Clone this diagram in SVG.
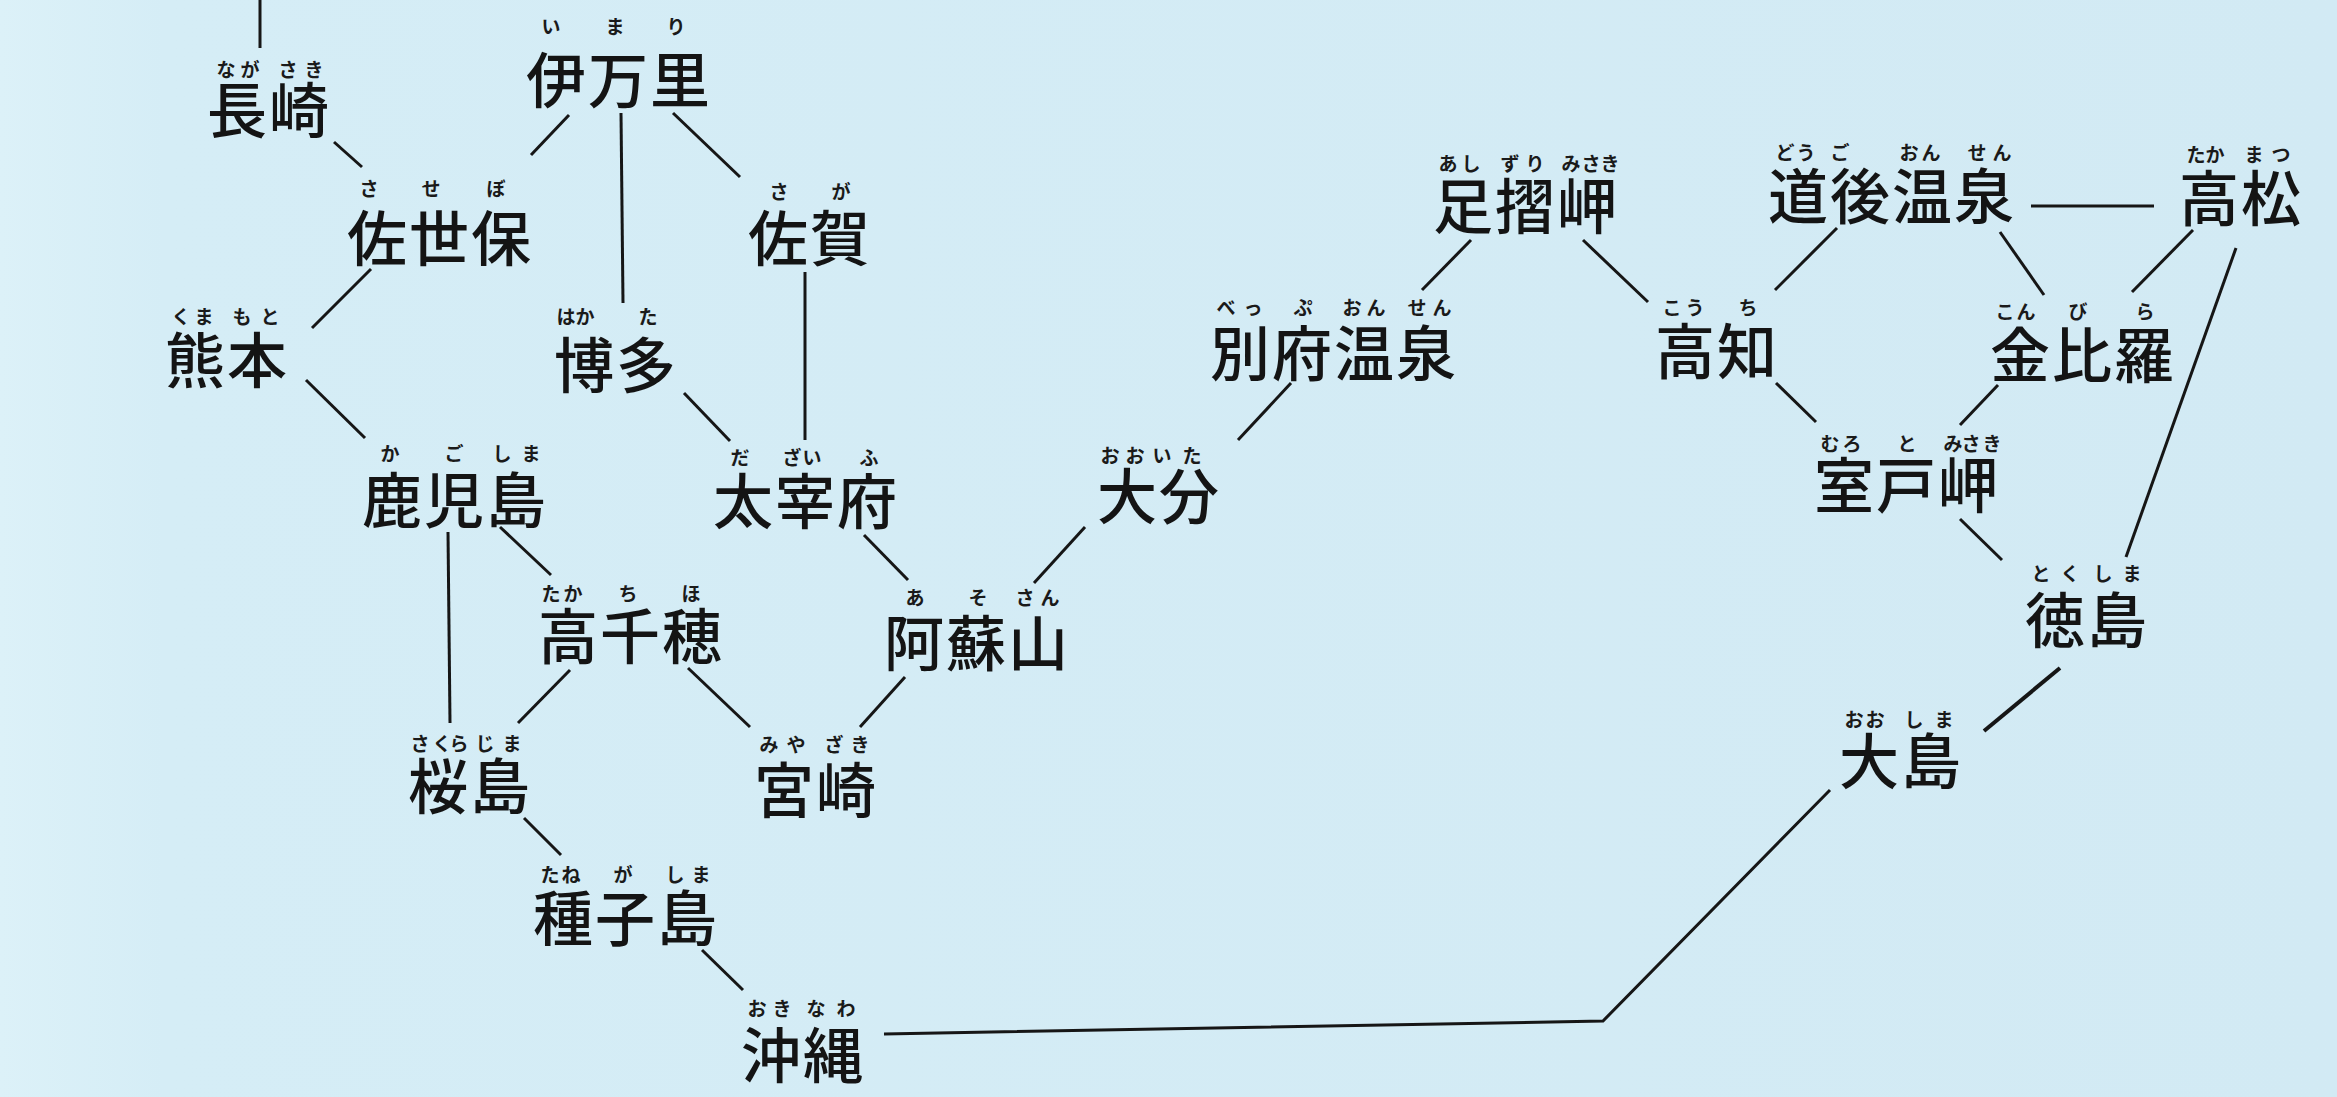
<svg xmlns="http://www.w3.org/2000/svg" width="2337" height="1097" viewBox="0 0 2337 1097">
<defs>
<linearGradient id="bg" x1="0" y1="0" x2="1" y2="0">
<stop offset="0" stop-color="#dcf1f8"/>
<stop offset="0.07" stop-color="#d5edf6"/>
<stop offset="1" stop-color="#d2eaf4"/>
</linearGradient>
<style>
.k{font-family:"Noto Sans CJK JP","Noto Sans CJK SC",sans-serif;font-size:60px;letter-spacing:2px;fill:#141414;text-anchor:middle;font-weight:500}
.f{font-family:"Noto Sans CJK JP","Noto Sans CJK SC",sans-serif;font-size:19px;fill:#1a1a1a;text-anchor:middle;font-weight:700}
.c line,.c polyline{stroke:#161616;stroke-width:3;fill:none;stroke-linecap:butt}
</style>
</defs>
<rect x="0" y="0" width="2337" height="1097" fill="url(#bg)"/>
<g id="connectors" class="c">
<line x1="260" y1="0" x2="260" y2="48"/>
<line x1="334" y1="142" x2="362" y2="167"/>
<line x1="569" y1="115" x2="531" y2="155"/>
<line x1="621" y1="113" x2="623" y2="303"/>
<line x1="673" y1="113" x2="740" y2="177"/>
<line x1="371" y1="269" x2="312" y2="328"/>
<line x1="306" y1="380" x2="365" y2="438"/>
<line x1="684" y1="393" x2="730" y2="441"/>
<line x1="805" y1="272" x2="805" y2="440"/>
<line x1="448" y1="532" x2="450" y2="723"/>
<line x1="500" y1="527" x2="551" y2="575"/>
<line x1="570" y1="670" x2="518" y2="723"/>
<line x1="688" y1="668" x2="750" y2="727"/>
<line x1="864" y1="535" x2="908" y2="580"/>
<line x1="1085" y1="527" x2="1034" y2="583"/>
<line x1="905" y1="677" x2="860" y2="727"/>
<line x1="524" y1="818" x2="561" y2="855"/>
<line x1="702" y1="950" x2="743" y2="990"/>
<polyline points="884,1034 1603,1021 1830,790"/>
<line x1="1291" y1="383" x2="1238" y2="440"/>
<line x1="1471" y1="240" x2="1422" y2="290"/>
<line x1="1583" y1="240" x2="1648" y2="302"/>
<line x1="1837" y1="228" x2="1775" y2="290"/>
<line x1="2031" y1="206" x2="2154" y2="206"/>
<line x1="2000" y1="232" x2="2044" y2="295"/>
<line x1="2193" y1="230" x2="2132" y2="292"/>
<line x1="2236" y1="248" x2="2126" y2="557"/>
<line x1="1776" y1="383" x2="1816" y2="422"/>
<line x1="1998" y1="385" x2="1960" y2="425"/>
<line x1="1960" y1="519" x2="2002" y2="560"/>
<line x1="2060" y1="668" x2="1984" y2="731" style="stroke-width:4"/>
</g>
<g id="nagasaki"><text class="f" x="226 250 288 314" y="77">ながさき</text><text class="k" x="269" y="133">長崎</text></g>
<g id="imari"><text class="f" x="551 615 676" y="34">いまり</text><text class="k" x="619" y="103">伊万里</text></g>
<g id="sasebo"><text class="f" x="369 431 496" y="196">させぼ</text><text class="k" x="440" y="261">佐世保</text></g>
<g id="saga"><text class="f" x="779 841" y="199">さが</text><text class="k" x="810" y="261">佐賀</text></g>
<g id="kumamoto"><text class="f" x="181 204 242 270" y="324">くまもと</text><text class="k" x="227" y="383">熊本</text></g>
<g id="hakata"><text class="f" x="566 585 648" y="324">はかた</text><text class="k" x="616" y="388">博多</text></g>
<g id="kagoshima"><text class="f" x="390 454 502 531" y="461">かごしま</text><text class="k" x="455" y="523">鹿児島</text></g>
<g id="dazaifu"><text class="f" x="740 792 812 869" y="465">だざいふ</text><text class="k" x="806" y="524">太宰府</text></g>
<g id="oita"><text class="f" x="1110 1135 1162 1192" y="463">おおいた</text><text class="k" x="1159" y="519">大分</text></g>
<g id="takachiho"><text class="f" x="551 573 628 691" y="601">たかちほ</text><text class="k" x="631" y="659">高千穂</text></g>
<g id="asosan"><text class="f" x="915 978 1025 1050" y="605">あそさん</text><text class="k" x="977" y="666">阿蘇山</text></g>
<g id="sakurajima"><text class="f" x="420 442 459 485 512" y="751">さくらじま</text><text class="k" x="470" y="809">桜島</text></g>
<g id="miyazaki"><text class="f" x="769 796 834 860" y="752">みやざき</text><text class="k" x="816" y="813">宮崎</text></g>
<g id="tanegashima"><text class="f" x="550 571 623 675 701" y="882">たねがしま</text><text class="k" x="626" y="941">種子島</text></g>
<g id="okinawa"><text class="f" x="757 782 816 846" y="1016">おきなわ</text><text class="k" x="803" y="1078">沖縄</text></g>
<g id="beppu-onsen"><text class="f" x="1226 1253 1303 1352 1376 1417 1442" y="315">べっぷおんせん</text><text class="k" x="1334" y="376">別府温泉</text></g>
<g id="ashizuri-misaki"><text class="f" x="1448 1471 1510 1535 1571 1591 1610" y="171">あしずりみさき</text><text class="k" x="1526" y="229">足摺岬</text></g>
<g id="kochi"><text class="f" x="1672 1695 1748" y="315">こうち</text><text class="k" x="1717" y="374">高知</text></g>
<g id="dogo-onsen"><text class="f" x="1785 1806 1840 1909 1931 1977 2002" y="160">どうごおんせん</text><text class="k" x="1892" y="219">道後温泉</text></g>
<g id="takamatsu"><text class="f" x="2196 2215 2254 2281" y="162">たかまつ</text><text class="k" x="2241" y="221">高松</text></g>
<g id="konpira"><text class="f" x="2005 2026 2078 2145" y="319">こんびら</text><text class="k" x="2083" y="378">金比羅</text></g>
<g id="muroto-misaki"><text class="f" x="1830 1852 1907 1953 1971 1992" y="451">むろとみさき</text><text class="k" x="1907" y="508">室戸岬</text></g>
<g id="tokushima"><text class="f" x="2041 2070 2103 2132" y="581">とくしま</text><text class="k" x="2087" y="643">徳島</text></g>
<g id="oshima"><text class="f" x="1854 1875 1914 1944" y="727">おおしま</text><text class="k" x="1901" y="784">大島</text></g>
</svg>
